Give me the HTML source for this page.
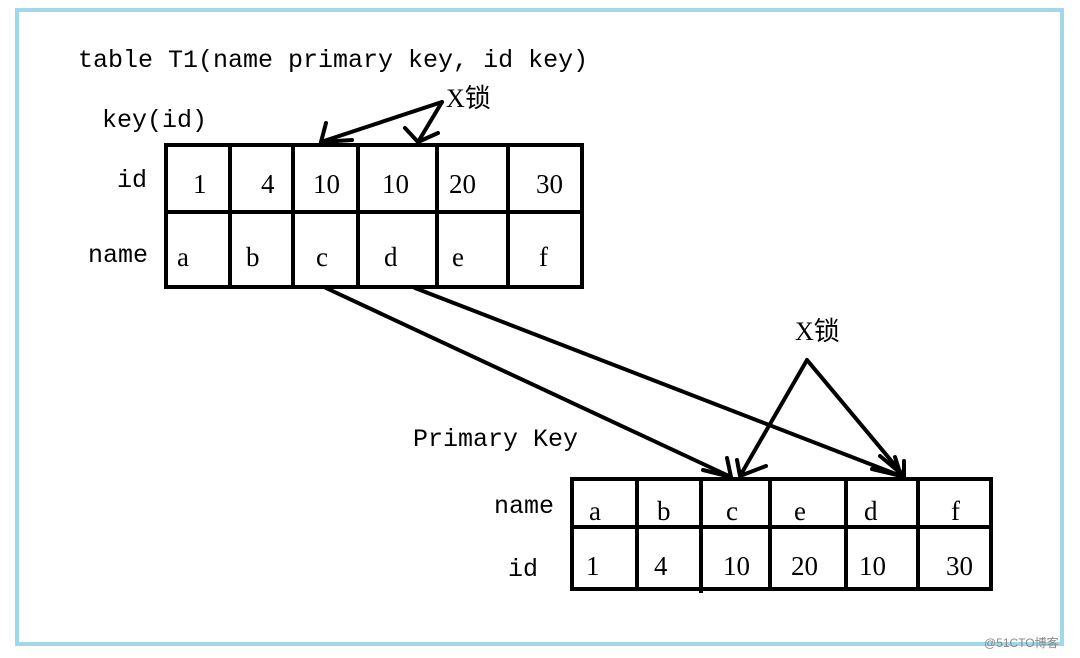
<!DOCTYPE html>
<html><head><meta charset="utf-8"><style>
html,body{margin:0;padding:0;background:#fff;}
svg{display:block}
.m{font-family:"Liberation Mono","Noto Sans CJK SC",monospace;font-size:25px;fill:#000}
.s{font-family:"Liberation Serif","Noto Serif CJK SC",serif;font-size:27px;fill:#000}
.k{font-family:"Liberation Serif","Noto Sans CJK SC",serif;font-size:26px;fill:#000}
</style></head><body>
<svg width="1080" height="658" viewBox="0 0 1080 658" xmlns="http://www.w3.org/2000/svg">
<rect x="17" y="10" width="1045" height="634" fill="none" stroke="#9fd8e6" stroke-width="4"/>
<text class="m" x="78" y="67">table T1(name primary key, id key)</text>
<text class="m" x="102" y="127">key(id)</text>
<text class="m" x="117" y="187">id</text>
<text class="m" x="88" y="262">name</text>
<g stroke="#000" stroke-width="4" fill="none">
<rect x="166" y="145" width="416" height="142"/>
<line x1="166" y1="212" x2="582" y2="212"/>
<line x1="230" y1="145" x2="230" y2="287"/>
<line x1="293" y1="145" x2="293" y2="287"/>
<line x1="358" y1="145" x2="358" y2="287"/>
<line x1="437" y1="145" x2="437" y2="287"/>
<line x1="508" y1="145" x2="508" y2="287"/>
</g>
<g class="s">
<text x="193" y="193">1</text><text x="261" y="193">4</text><text x="313" y="193">10</text>
<text x="382" y="193">10</text><text x="449" y="193">20</text><text x="536" y="193">30</text>
<text x="177" y="266">a</text><text x="246" y="266">b</text><text x="316" y="266">c</text>
<text x="384" y="266">d</text><text x="452" y="266">e</text><text x="539" y="266">f</text>
</g>
<text class="k" x="446" y="107">X锁</text>
<g stroke="#000" stroke-width="4" fill="none" stroke-linecap="round" stroke-linejoin="round">
<line x1="442" y1="102" x2="321" y2="142"/>
<polyline points="326,123 321,142 352,140"/>
<line x1="442" y1="102" x2="418" y2="142"/>
<polyline points="405,128 418,142 438,133"/>
<line x1="326" y1="288" x2="731" y2="477"/>
<polyline points="703,470 731,477 727,458"/>
<line x1="415" y1="288" x2="901" y2="476"/>
<polyline points="872,469 901,476 895,457"/>
<line x1="807" y1="360" x2="740" y2="476"/>
<polyline points="737,460 740,476 766,466"/>
<line x1="807" y1="360" x2="904" y2="476"/>
<polyline points="904,461 904,476 880,456"/>
</g>
<text class="m" x="413" y="446">Primary Key</text>
<text class="k" x="795" y="340">X锁</text>
<text class="m" x="494" y="513">name</text>
<text class="m" x="508" y="576">id</text>
<g stroke="#000" stroke-width="4" fill="none">
<rect x="572" y="479" width="419" height="110"/>
<line x1="570" y1="527" x2="993" y2="527"/>
<line x1="637" y1="479" x2="637" y2="591"/>
<line x1="701" y1="479" x2="701" y2="593"/>
<line x1="770" y1="479" x2="770" y2="589"/>
<line x1="846" y1="479" x2="846" y2="589"/>
<line x1="918" y1="479" x2="918" y2="589"/>
</g>
<g class="s">
<text x="589" y="520">a</text><text x="657" y="520">b</text><text x="726" y="520">c</text>
<text x="794" y="520">e</text><text x="864" y="520">d</text><text x="951" y="520">f</text>
<text x="586" y="575">1</text><text x="654" y="575">4</text><text x="723" y="575">10</text>
<text x="791" y="575">20</text><text x="859" y="575">10</text><text x="946" y="575">30</text>
</g>
<text x="984" y="647" style="font-family:'Liberation Sans','Noto Sans CJK SC',sans-serif;font-size:12px;fill:#888">@51CTO博客</text>
</svg>
</body></html>
